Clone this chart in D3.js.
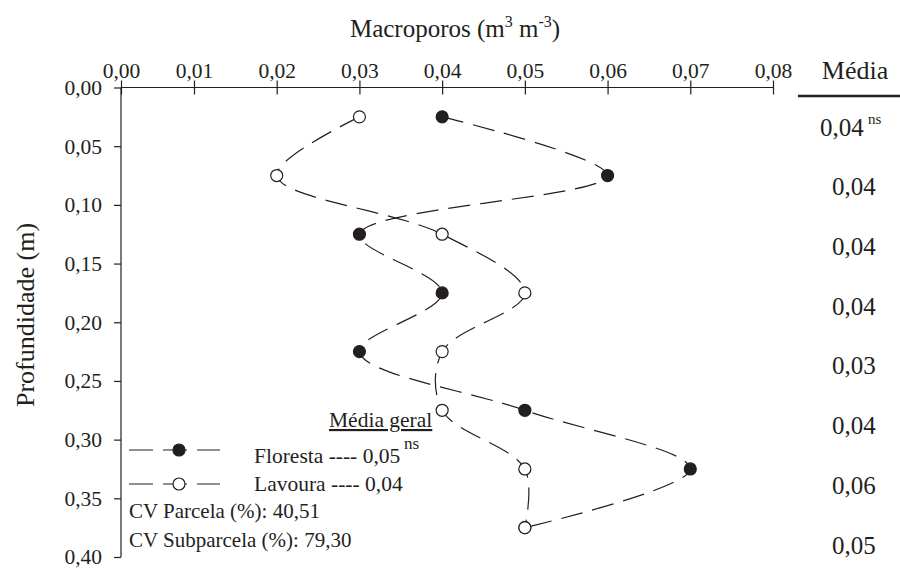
<!DOCTYPE html>
<html>
<head>
<meta charset="utf-8">
<script src="https://cdn.jsdelivr.net/npm/d3@7"></script>
<style>
  body { margin: 0; background: #fff; }
  svg text { font-family: "Liberation Serif", "Times New Roman", serif; fill: #231f20; }
</style>
</head>
<body>
<div id="chart"></div>
<script>
// depth of each layer (m)
const depths = [0.025, 0.075, 0.125, 0.175, 0.225, 0.275, 0.325, 0.375];
// macroporos (m3 m-3)
const floresta = [0.04, 0.06, 0.03, 0.04, 0.03, 0.05, 0.07, 0.05];
const lavoura = [0.03, 0.02, 0.04, 0.05, 0.04, 0.04, 0.05, 0.05];
// mean of each layer, right column
const mediaLabels = ['0,04', '0,04', '0,04', '0,04', '0,03', '0,04', '0,06', '0,05'];
const xTicks = [0, 0.01, 0.02, 0.03, 0.04, 0.05, 0.06, 0.07, 0.08];
const yTicks = [0, 0.05, 0.1, 0.15, 0.2, 0.25, 0.3, 0.35, 0.4];

const width = 900, height = 568;
const fmt = v => d3.format('.2f')(v).replace('.', ',');
const ink = '#231f20';

const svg = d3.select('#chart').append('svg')
  .attr('width', width)
  .attr('height', height);

// the 0,00-0,01 step is drawn narrower in the original
const x = d3.scaleLinear().domain([0, 0.01, 0.08]).range([121, 194, 773]);
const y = d3.scaleLinear().domain([0, 0.4]).range([87.5, 557]);
const yMedia = d3.scaleLinear().domain([0.025, 0.375]).range([127, 545]);

// top axis
const xAxis = svg.append('g').attr('transform', `translate(0,${y(0)})`)
  .call(d3.axisTop(x).tickValues(xTicks).tickFormat(fmt).tickSize(7).tickPadding(3));
xAxis.select('.domain').attr('d', `M${x(0)},0H${x(0.08)}`);
xAxis.selectAll('.tick line').attr('y2', 7).attr('y1', -7);

const yAxis = svg.append('g').attr('transform', `translate(${x(0)},0)`)
  .call(d3.axisLeft(y).tickValues(yTicks).tickFormat(fmt).tickSize(7).tickPadding(12));
yAxis.select('.domain').attr('d', `M0,${y(0)}V${y(0.4)}`);

svg.selectAll('.domain, .tick line').attr('stroke', ink).attr('stroke-width', 1.2);
svg.selectAll('.tick text').attr('font-size', 21.5).attr('fill', ink);

// titles
const title = svg.append('text').attr('x', 455).attr('y', 37)
  .attr('text-anchor', 'middle').attr('font-size', 25);
title.append('tspan').text('Macroporos (m');
title.append('tspan').attr('font-size', 16).attr('dy', -10).text('3');
title.append('tspan').attr('dy', 10).text(' m');
title.append('tspan').attr('font-size', 16).attr('dy', -10).text('-3');
title.append('tspan').attr('dy', 10).text(')');

svg.append('text')
  .attr('transform', 'translate(34,315) rotate(-90)')
  .attr('text-anchor', 'middle').attr('font-size', 26)
  .text('Profundidade (m)');

// series
const series = [
  { name: 'Floresta', values: floresta, fill: ink },
  { name: 'Lavoura', values: lavoura, fill: '#fff' }
];

const line = d3.line()
  .x(d => x(d[0]))
  .y(d => y(d[1]))
  .curve(d3.curveCatmullRom.alpha(0.5));

series.forEach(s => {
  const pts = s.values.map((v, i) => [v, depths[i]]);
  svg.append('path')
    .attr('d', line(pts))
    .attr('fill', 'none')
    .attr('stroke', ink)
    .attr('stroke-width', 1.2)
    .attr('stroke-dasharray', '22,10');
});

series.forEach(s => {
  svg.append('g').selectAll('circle')
    .data(s.values)
    .join('circle')
    .attr('cx', d => x(d))
    .attr('cy', (d, i) => y(depths[i]))
    .attr('r', 6)
    .attr('fill', s.fill)
    .attr('stroke', ink)
    .attr('stroke-width', 1.2);
});

// Média column
svg.append('text').attr('x', 855).attr('y', 79)
  .attr('text-anchor', 'middle').attr('font-size', 26).text('Média');
svg.append('line')
  .attr('x1', 798).attr('x2', 900).attr('y1', 96).attr('y2', 96)
  .attr('stroke', ink).attr('stroke-width', 2.5);

svg.append('g').selectAll('text')
  .data(mediaLabels)
  .join('text')
  .attr('x', (d, i) => i === 0 ? 820 : 832)
  .attr('y', (d, i) => yMedia(depths[i]))
  .attr('dy', '0.34em')
  .attr('font-size', 25)
  .text(d => d);
svg.append('text').attr('x', 868).attr('y', yMedia(depths[0]) - 3)
  .attr('font-size', 15).text('ns');

// legend
const leg = svg.append('g');
leg.append('text').attr('x', 329).attr('y', 427).attr('font-size', 21.5)
  .attr('text-decoration', 'underline').text('Média geral');

const legRows = [
  { s: series[0], y: 450, text: 'Floresta ---- 0,05', ty: 463 },
  { s: series[1], y: 484, text: 'Lavoura ---- 0,04', ty: 491 }
];
legRows.forEach(r => {
  leg.append('path')
    .attr('d', `M129,${r.y}H220`)
    .attr('stroke', ink).attr('stroke-width', 1.2)
    .attr('stroke-dasharray', '24,10');
  leg.append('circle').attr('cx', 179).attr('cy', r.y).attr('r', 6)
    .attr('fill', r.s.fill).attr('stroke', ink).attr('stroke-width', 1.2);
  leg.append('text').attr('x', 254).attr('y', r.ty).attr('font-size', 21.5).text(r.text);
});
leg.append('text').attr('x', 404).attr('y', 449).attr('font-size', 17).text('ns');
leg.append('text').attr('x', 129).attr('y', 518).attr('font-size', 21).text('CV Parcela (%): 40,51');
leg.append('text').attr('x', 129).attr('y', 547).attr('font-size', 21).text('CV Subparcela (%): 79,30');
</script>
</body>
</html>
